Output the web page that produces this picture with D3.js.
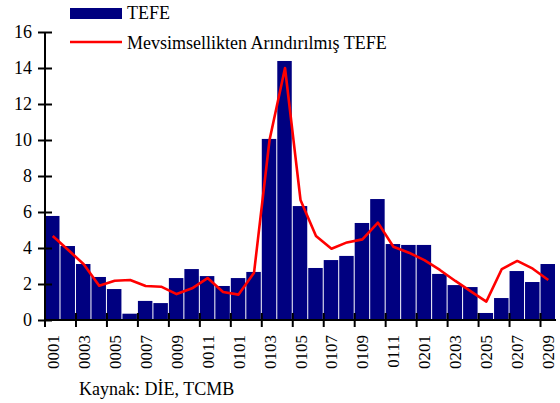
<!DOCTYPE html>
<html>
<head>
<meta charset="utf-8">
<script src="https://cdn.jsdelivr.net/npm/d3@7"></script>
<style>
  html, body { margin: 0; padding: 0; background: #fff; }
  svg { display: block; }
  svg text { font-family: "Liberation Serif", "Times New Roman", serif; }
</style>
</head>
<body>
<svg id="chart" width="560" height="403"></svg>
<script>
const categories = ["0001","0002","0003","0004","0005","0006","0007","0008","0009","0010","0011","0012",
  "0101","0102","0103","0104","0105","0106","0107","0108","0109","0110","0111","0112",
  "0201","0202","0203","0204","0205","0206","0207","0208","0209"];
const tefe = [5.78, 4.11, 3.11, 2.39, 1.72, 0.35, 1.06, 0.94, 2.33, 2.83, 2.44, 1.89,
  2.33, 2.67, 10.06, 14.39, 6.33, 2.89, 3.33, 3.56, 5.39, 6.72, 4.22, 4.17,
  4.17, 2.56, 1.94, 1.83, 0.39, 1.22, 2.72, 2.11, 3.11];
const tefeSA = [4.67, 3.89, 3.1, 1.9, 2.18, 2.22, 1.89, 1.85, 1.44, 1.76, 2.33, 1.56,
  1.41, 2.63, 10.0, 14.0, 6.67, 4.67, 3.96, 4.31, 4.48, 5.41, 4.07, 3.74,
  3.33, 2.78, 2.17, 1.59, 1.02, 2.83, 3.28, 2.85, 2.22];
const yTicks = [0, 2, 4, 6, 8, 10, 12, 14, 16];
const seriesNames = ["TEFE", "Mevsimsellikten Arındırılmış TEFE"];
const source = "Kaynak: DİE, TCMB";

(function () {
const svg = d3.select("#chart");
const mLeft = 45, mRight = 556, mTop = 32, mBottom = 320;
const fs = 18, fsX = 17;
const ff = "'Liberation Serif', 'Times New Roman', serif";

const x = d3.scaleBand().domain(categories).range([mLeft, mRight]).paddingInner(0).paddingOuter(0);
const y = d3.scaleLinear().domain([0, 16]).range([mBottom, mTop]);

// bars
svg.append("g").selectAll("rect").data(tefe).join("rect")
  .attr("x", (d, i) => x(categories[i]))
  .attr("width", x.bandwidth() - 1)
  .attr("y", d => y(d))
  .attr("height", d => y(0) - y(d))
  .attr("fill", "#000080");

// line
const line = d3.line()
  .x((d, i) => x(categories[i]) + x.bandwidth() / 2)
  .y(d => y(d));
svg.append("path").datum(tefeSA)
  .attr("d", line)
  .attr("fill", "none")
  .attr("stroke", "#ff0000")
  .attr("stroke-width", 2.6)
  .attr("stroke-linejoin", "round");

// y axis
const yAxis = svg.append("g").attr("transform", `translate(${mLeft},0)`)
  .call(d3.axisLeft(y).tickValues(yTicks).tickSize(7).tickPadding(6).tickFormat(d3.format("d")));
yAxis.attr("font-family", null).attr("font-size", null);
yAxis.select(".domain").attr("stroke", "#000").attr("stroke-width", 2).attr("d", `M0,${mTop}V${mBottom}`);
yAxis.selectAll(".tick line").attr("x1", 7).attr("x2", -7).attr("stroke", "#000").attr("stroke-width", 2);
yAxis.selectAll(".tick text").attr("fill", "#000")
  .style("font-family", ff).style("font-size", fs + "px");

// x axis
const xTickCats = categories.filter((c, i) => i % 2 === 0);
const xAxisG = svg.append("g").attr("transform", `translate(0,${mBottom})`);
xAxisG.append("line").attr("x1", mLeft).attr("x2", mRight).attr("y1", 0).attr("y2", 0)
  .attr("stroke", "#000").attr("stroke-width", 2);
xAxisG.selectAll("line.tk").data(xTickCats).join("line").attr("class", "tk")
  .attr("x1", d => x(d)).attr("x2", d => x(d))
  .attr("y1", -7).attr("y2", 7)
  .attr("stroke", "#000").attr("stroke-width", 2);
xAxisG.selectAll("text").data(xTickCats).join("text")
  .attr("transform", d => `translate(${x(d) + x.bandwidth() / 2 + 6},15) rotate(-90)`)
  .attr("text-anchor", "end")
  .style("font-family", ff).style("font-size", fsX + "px")
  .attr("fill", "#000")
  .text(d => d);

// legend
const lg = svg.append("g");
lg.append("rect").attr("x", 70).attr("y", 8).attr("width", 52).attr("height", 11).attr("fill", "#000080");
lg.append("text").attr("x", 127).attr("y", 19).style("font-family", ff).style("font-size", fs + "px").attr("fill", "#000").text(seriesNames[0]);
lg.append("line").attr("x1", 70).attr("x2", 122).attr("y1", 42).attr("y2", 42)
  .attr("stroke", "#ff0000").attr("stroke-width", 2.6);
lg.append("text").attr("x", 127).attr("y", 49).style("font-family", ff).style("font-size", fs + "px").attr("fill", "#000").text(seriesNames[1]);

// source
svg.append("text").attr("x", 79).attr("y", 395).style("font-family", ff).style("font-size", fs + "px").attr("fill", "#000").text(source);
})();
</script>
</body>
</html>
